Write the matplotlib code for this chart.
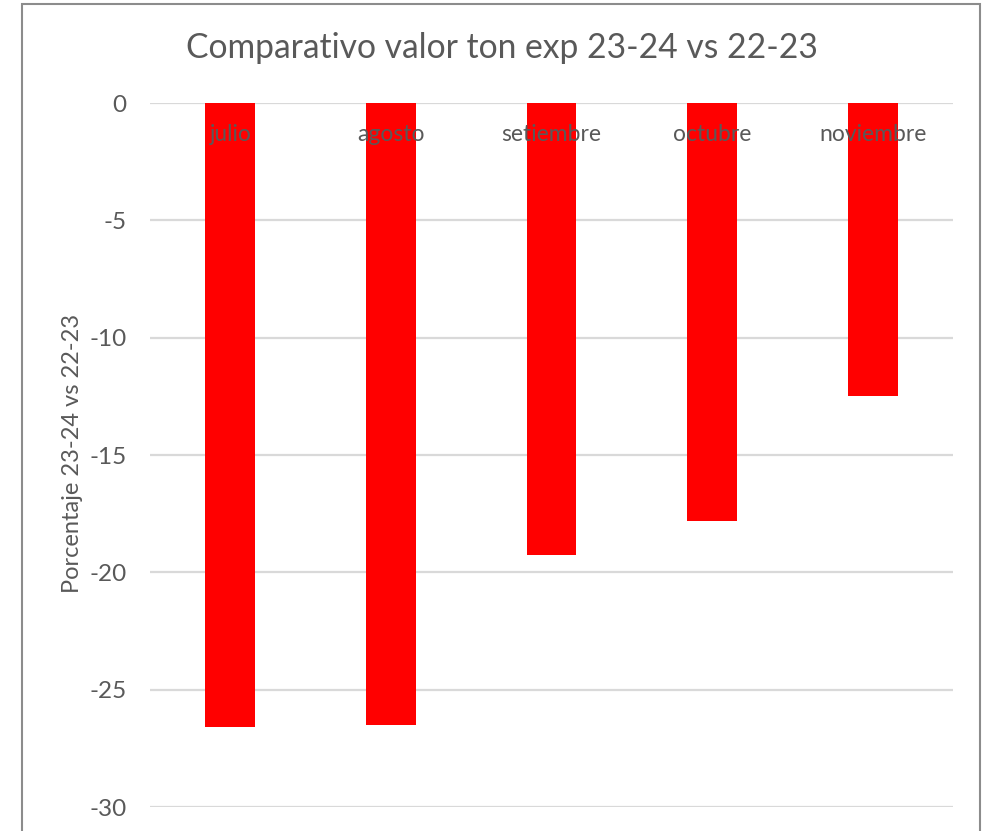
import matplotlib.pyplot as plt
from matplotlib.patches import Rectangle

# data
months = ["julio", "agosto", "setiembre", "octubre", "noviembre"]
pct_change = [-26.6, -26.5, -19.25, -17.8, -12.5]
y_ticks = [0, -5, -10, -15, -20, -25, -30]

TEXT_GREY = "#595959"
GRID_GREY = "#d9d9d9"
BAR_RED = "#ff0000"

plt.rcParams["font.family"] = ["Lato", "DejaVu Sans"]


def create_chart():
    fig = plt.figure(figsize=(9.82, 8.31), dpi=100)

    # chart frame like the Excel chart area
    frame = Rectangle((22 / 982, -0.05), 958 / 982, 1.05 - 4 / 831,
                      transform=fig.transFigure, fill=False,
                      edgecolor="#8c8c8c", linewidth=1.5)
    fig.patches.append(frame)

    ax = fig.add_axes([150 / 982, 1 - 807 / 831, 803 / 982, 704 / 831])

    x = list(range(len(months)))
    ax.bar(x, pct_change, width=0.31, color=BAR_RED, zorder=3)

    ax.set_xlim(-0.5, len(months) - 0.5)
    ax.set_ylim(-30, 0)
    ax.set_yticks(y_ticks)
    ax.set_yticklabels([str(v) for v in y_ticks])
    ax.set_xticks([])

    ax.grid(axis="y", color=GRID_GREY, linewidth=1.6, zorder=0)
    for side in ax.spines:
        ax.spines[side].set_visible(False)
    ax.tick_params(axis="y", length=0, pad=17, labelsize=17.5,
                   labelcolor=TEXT_GREY)

    # category labels sit just under the zero line, over the bars
    for i, name in enumerate(months):
        ax.annotate(name, (i, 0), xytext=(0, -22.5), textcoords="offset points",
                    ha="center", va="center", fontsize=16.5,
                    color=TEXT_GREY, zorder=4)

    fig.text(73 / 982, 1 - 453 / 831, "Porcentaje 23-24 vs 22-23",
             rotation=90, ha="center", va="center", fontsize=17,
             color=TEXT_GREY)
    fig.text(502 / 982, 1 - 48 / 831,
             "Comparativo valor ton exp 23-24 vs 22-23",
             ha="center", va="center", fontsize=24.2, color=TEXT_GREY)

    fig.savefig("out.png", dpi=100)
    plt.close(fig)


def main():
    create_chart()


if __name__ == "__main__":
    main()
